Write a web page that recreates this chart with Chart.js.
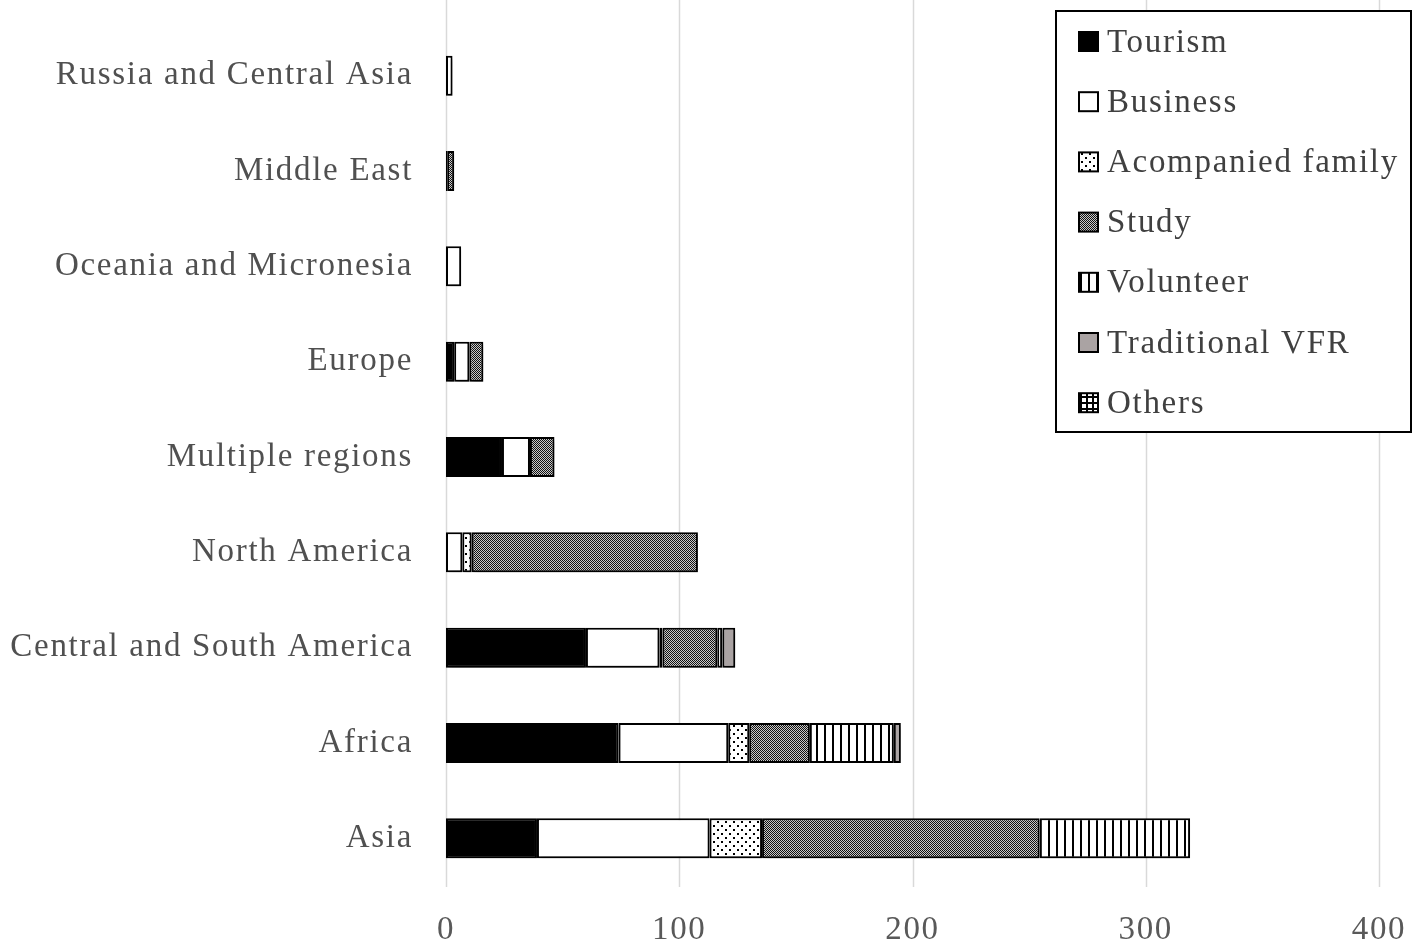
<!DOCTYPE html>
<html>
<head>
<meta charset="utf-8">
<script src="https://cdn.jsdelivr.net/npm/chart.js@4/dist/chart.umd.min.js"></script>
<style>
  html, body { margin: 0; padding: 0; background: #fff; }
  #wrap { width: 1424px; height: 945px; }
</style>
</head>
<body>
<div id="wrap"><canvas id="barChart" width="1424" height="945"></canvas></div>
<script>
// data (number of cases per region)
const categories = ['Russia and Central Asia', 'Middle East', 'Oceania and Micronesia', 'Europe',
    'Multiple regions', 'North America', 'Central and South America', 'Africa', 'Asia'];
const seriesNames = ['Tourism', 'Business', 'Acompanied family', 'Study', 'Volunteer', 'Traditional VFR', 'Others'];
const tourism   = [0,   0,   0,   3.5, 24,   0,  60,   74, 39];
const business  = [2.8, 0.5, 6.5, 6.5, 12,   7,  31.5, 47, 74];
const family    = [0,   0,   0,   0,   0,    4,  1.3,  9,  22.5];
const study     = [0,   3,   0,   6,   10.5, 97, 23.5, 26, 119];
const volunteer = [0,   0,   0,   0,   0,    0,  2.2,  36, 64.5];
const vfr       = [0,   0,   0,   0,   0,    0,  5.5,  3,  0];
const others    = [0,   0,   0,   0,   0,    0,  0,    0,  0];
const xTicks = [0, 100, 200, 300, 400];

const LETTER_SPACING = '1.7px';

// fill patterns
function makePattern(w, h, draw) {
    const c = document.createElement('canvas');
    c.width = w; c.height = h;
    const g = c.getContext('2d');
    g.fillStyle = '#fff';
    g.fillRect(0, 0, w, h);
    g.fillStyle = '#000';
    draw(g);
    return document.getElementById('barChart').getContext('2d').createPattern(c, 'repeat');
}
const dotPattern = makePattern(8, 8, g => { g.fillRect(1, 1, 2, 2); g.fillRect(5, 5, 2, 2); });
const checkPattern = makePattern(2, 2, g => {
    g.fillStyle = '#c8c8c8'; g.fillRect(0, 0, 2, 2);
    g.fillStyle = '#111'; g.fillRect(0, 0, 1, 1); g.fillRect(1, 1, 1, 1);
});
const stripePattern = makePattern(8, 8, g => { g.fillRect(0, 0, 2, 8); });
const gridPattern = makePattern(6, 6, g => { g.fillRect(0, 0, 6, 2); g.fillRect(0, 0, 2, 6); });

const fills = ['#000', '#fff', dotPattern, checkPattern, stripePattern, '#aaa3a3', gridPattern];
const values = [tourism, business, family, study, volunteer, vfr, others];

// vertical grid lines reaching the top of the picture, plus bar shadow
const gridPlugin = {
    id: 'gridPlugin',
    beforeDraw(chart) {
        chart.ctx.letterSpacing = LETTER_SPACING;
    },
    beforeDatasetsDraw(chart) {
        const ctx = chart.ctx;
        const x = chart.scales.x;
        ctx.save();
        ctx.strokeStyle = '#d9d9d9';
        ctx.lineWidth = 1.5;
        x.ticks.forEach(t => {
            const px = Math.round(x.getPixelForValue(t.value)) + 0.5;
            ctx.beginPath();
            ctx.moveTo(px, 0);
            ctx.lineTo(px, chart.chartArea.bottom + 1);
            ctx.stroke();
        });
        ctx.restore();
        ctx.save();
        ctx.shadowColor = 'rgba(0,0,0,0.4)';
        ctx.shadowBlur = 5;
        ctx.shadowOffsetX = 2;
        ctx.shadowOffsetY = 3;
    },
    afterDatasetsDraw(chart) {
        chart.ctx.restore();
    }
};

// boxed legend in the upper right
const legendPlugin = {
    id: 'boxLegend',
    afterDraw(chart) {
        const ctx = chart.ctx;
        const left = chart.width - 368, top = 11, w = 355, h = 421;
        ctx.save();
        ctx.letterSpacing = LETTER_SPACING;
        ctx.fillStyle = '#fff';
        ctx.fillRect(left, top, w, h);
        ctx.strokeStyle = '#000';
        ctx.lineWidth = 2;
        ctx.strokeRect(left, top, w, h);
        ctx.font = '33px "Liberation Serif", serif';
        ctx.textBaseline = 'middle';
        chart.data.datasets.forEach((ds, i) => {
            const cy = top + 31 + i * 60.2;
            ctx.fillStyle = ds.backgroundColor;
            ctx.fillRect(left + 23, cy - 10, 19, 19);
            ctx.strokeStyle = '#000';
            ctx.lineWidth = 2;
            ctx.strokeRect(left + 23, cy - 10, 19, 19);
            ctx.fillStyle = '#404040';
            ctx.fillText(ds.label, left + 51, cy + 1);
        });
        ctx.restore();
    }
};

const barChart = new Chart(document.getElementById('barChart'), {
    type: 'bar',
    data: {
        labels: categories,
        datasets: seriesNames.map((name, i) => ({
            label: name,
            data: values[i],
            backgroundColor: fills[i],
            borderColor: '#000',
            borderWidth: 2,
            borderSkipped: false,
            barPercentage: 0.42,
            categoryPercentage: 1
        }))
    },
    options: {
        indexAxis: 'y',
        responsive: false,
        animation: false,
        layout: { padding: { top: 28, right: 45, left: 0, bottom: 0 } },
        plugins: {
            legend: { display: false },
            tooltip: { enabled: false }
        },
        scales: {
            x: {
                stacked: true,
                min: 0,
                max: 400,
                afterBuildTicks: s => { s.ticks = xTicks.map(v => ({ value: v })); },
                afterFit: s => { s.height = 59; s.paddingLeft = 0; s.paddingRight = 0; },
                grid: { display: false },
                border: { display: false },
                ticks: {
                    padding: 17,
                    color: '#595959',
                    font: { family: '"Liberation Serif", serif', size: 33 }
                }
            },
            y: {
                stacked: true,
                afterFit: s => { s.width = 446; s.paddingTop = 0; s.paddingBottom = 0; },
                grid: { display: false, drawTicks: false },
                border: { display: false },
                ticks: {
                    padding: 33,
                    color: '#505050',
                    font: { family: '"Liberation Serif", serif', size: 33 }
                }
            }
        }
    },
    plugins: [gridPlugin, legendPlugin]
});
</script>
</body>
</html>
